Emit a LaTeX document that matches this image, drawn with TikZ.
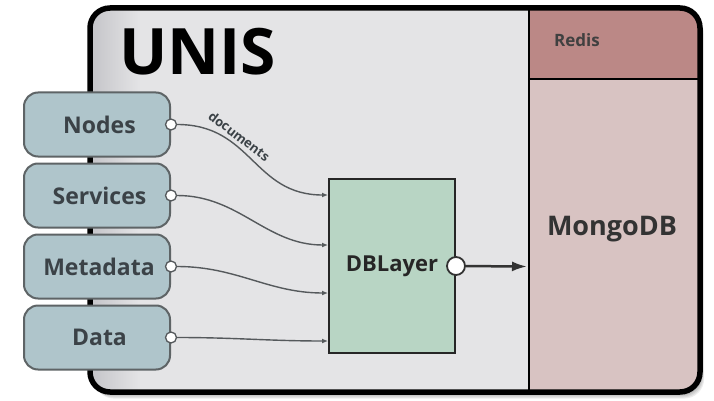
\documentclass[tikz,border=0pt]{standalone}
\usepackage{fontspec}
\setmainfont{Open Sans}
\usetikzlibrary{arrows.meta,calc}
\definecolor{bggray}{HTML}{E4E4E6}
\definecolor{shadeg}{HTML}{C4C4C8}
\definecolor{srcfill}{HTML}{AFC5CB}
\definecolor{srcdraw}{HTML}{5E6466}
\definecolor{dbfill}{HTML}{B8D5C4}
\definecolor{redisc}{HTML}{BB8886}
\definecolor{mongoc}{HTML}{D8C3C2}
\definecolor{labelc}{HTML}{3B4247}
\definecolor{linec}{HTML}{55595C}
\tikzset{
  srcbox/.style={draw=srcdraw, fill=srcfill, line width=2pt, rounded corners=14pt,
    minimum width=146pt, minimum height=64pt, inner sep=0pt,
    font=\bfseries\fontsize{23}{23}\selectfont, text=labelc},
  portc/.style={circle, draw=linec, fill=white, line width=1.3pt, inner sep=0pt, minimum size=11pt},
  dbbox/.style={draw=black!85, fill=dbfill, line width=2pt, minimum width=126pt, minimum height=174pt,
    inner sep=0pt, font=\bfseries\fontsize{22}{22}\selectfont, text=black!85},
  conn/.style={draw=linec, line width=1.4pt, -{Latex[length=6pt,width=5pt]}},
  bigarrow/.style={draw=black!80, line width=2.5pt, -{Latex[length=15pt,width=10pt]}},
}
\begin{document}
\begin{tikzpicture}[x=1pt,y=-1pt]
\useasboundingbox (0,0) rectangle (714,401);
% shadow
\foreach \i in {1,...,6}
  \fill[black,opacity=0.07,rounded corners=20pt] (90+\i*0.7,8+\i*1.1) rectangle (700+\i*0.7,392+\i*1.1);
% outer box
\fill[bggray, rounded corners=20pt] (90,8) rectangle (700,392);
\begin{scope}
  \clip[rounded corners=20pt] (90,8) rectangle (700,392);
  \shade[left color=shadeg, right color=bggray] (90,8) rectangle (140,392);
  \fill[redisc] (529,8) rectangle (700,79);
  \fill[mongoc] (529,79) rectangle (700,392);
\end{scope}
\draw[line width=2.5pt] (529,8) -- (529,392);
\draw[line width=2pt] (529,79) -- (700,79);
\draw[line width=5.5pt, rounded corners=20pt] (90,8) rectangle (700,392);
% texts
\node[font=\bfseries\fontsize{64}{64}\selectfont, anchor=base west, inner sep=0pt] (title) at (119,75) {UNIS};
\node[font=\bfseries\fontsize{17}{17}\selectfont, text=black!75, inner sep=0pt] (redis) at (577,40) {Redis};
\node[font=\bfseries\fontsize{27}{27}\selectfont, text=black!80, inner sep=0pt] (mongo) at (612,229) {MongoDB};
\coordinate (mongoedge) at (527,266.5);
% source boxes
\node[srcbox] (nodes) at (97,124.5) {\hspace{5pt}Nodes};
\node[srcbox] (services) at (97,195.5) {\hspace{5pt}Services};
\node[srcbox] (metadata) at (97,266.5) {\hspace{4pt}Metadata};
\node[srcbox] (data) at (97,337.5) {\hspace{5pt}Data};
\node[portc] (p1) at (nodes.east) {};
\node[portc] (p2) at (services.east) {};
\node[portc] (p3) at (metadata.east) {};
\node[portc] (p4) at (data.east) {};
% DB layer
\node[dbbox] (db) at (392,266) {DBLayer\hspace{8pt}};
\coordinate (in1) at ([yshift=71pt]db.west);
\coordinate (in2) at ([yshift=21pt]db.west);
\coordinate (in3) at ([yshift=-27pt]db.west);
\coordinate (in4) at ([yshift=-75pt]db.west);
\draw[conn] (p1) to[out=0,in=180,looseness=1.15]
  node[sloped, above=0pt, pos=0.34, font=\bfseries\fontsize{13}{13}\selectfont, text=labelc] (doclbl) {documents} (in1);
\draw[conn] (p2) to[out=0,in=180] (in2);
\draw[conn] (p3) to[out=0,in=180] (in3);
\draw[conn] (p4) to[out=0,in=180] (in4);
\node[portc, minimum size=18pt, line width=1.8pt, draw=black!80] (dbport) at (db.east) {};
\draw[bigarrow] (dbport) -- (mongoedge);
\end{tikzpicture}
\end{document}
